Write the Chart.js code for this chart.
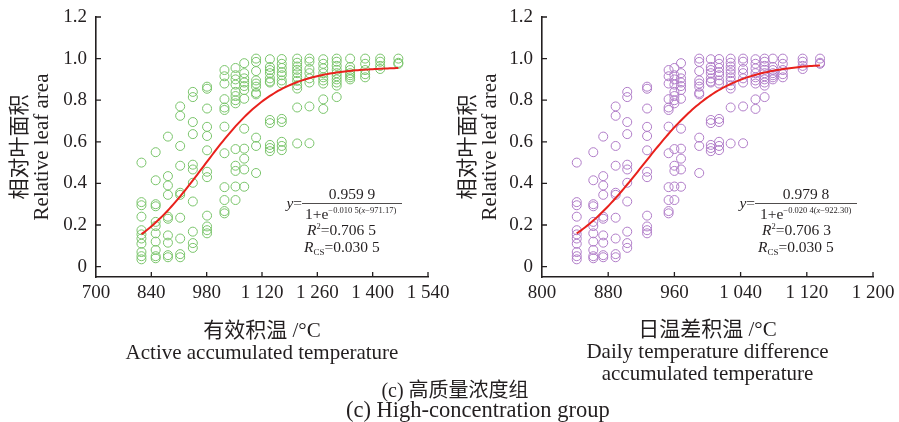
<!DOCTYPE html>
<html>
<head>
<meta charset="utf-8">
<script src="https://cdn.jsdelivr.net/npm/chart.js@4.4.0/dist/chart.umd.min.js"></script>
<style>
  body { margin: 0; width: 899px; height: 422px; background: #fff; position: relative; overflow: hidden;
         font-family: "Liberation Serif", "Noto Sans CJK SC", serif; color: #231f20; }
  canvas { position: absolute; top: 0; }
  #c1 { left: 0; }
  #c2 { left: 450px; }
  .cap { position: absolute; white-space: nowrap; line-height: 20px; }
</style>
</head>
<body>
<canvas id="c1" width="450" height="390"></canvas>
<canvas id="c2" width="449" height="390"></canvas>
<div class="cap" style="top:380px;left:0;width:910px;text-align:center;font-size:20px">(c) 高质量浓度组</div>
<div class="cap" style="top:400px;left:346px;font-size:22.5px">(c) High-concentration group</div>
<script>
// sampling dates: active accumulated temperature and daily-difference accumulated temperature
const activeTemp = [815, 851, 882, 913, 945, 981, 1025, 1053, 1075, 1105, 1140, 1170, 1209, 1240, 1275, 1309, 1343, 1381, 1419, 1465];
const diffTemp = [842, 862, 874, 889, 903, 927, 953, 960, 968, 990, 1004, 1014, 1028, 1043, 1058, 1069, 1079, 1091, 1115, 1136];

// relative leaf area observed on each sampling date
const leafArea = [
  [0.50, 0.31, 0.295, 0.24, 0.175, 0.155, 0.135, 0.11, 0.07, 0.05, 0.035],
  [0.55, 0.415, 0.30, 0.29, 0.215, 0.195, 0.16, 0.12, 0.08, 0.05, 0.04],
  [0.625, 0.435, 0.39, 0.345, 0.24, 0.23, 0.15, 0.115, 0.055, 0.045],
  [0.77, 0.725, 0.58, 0.485, 0.355, 0.345, 0.235, 0.135, 0.06, 0.045],
  [0.84, 0.815, 0.695, 0.637, 0.49, 0.467, 0.403, 0.313, 0.168, 0.113, 0.09],
  [0.865, 0.855, 0.76, 0.672, 0.628, 0.559, 0.456, 0.43, 0.245, 0.193, 0.175, 0.16],
  [0.945, 0.915, 0.88, 0.805, 0.765, 0.753, 0.673, 0.545, 0.382, 0.32, 0.267, 0.256],
  [0.955, 0.92, 0.90, 0.875, 0.84, 0.82, 0.80, 0.785, 0.565, 0.485, 0.46, 0.385, 0.32],
  [0.978, 0.93, 0.905, 0.885, 0.868, 0.849, 0.807, 0.663, 0.567, 0.519, 0.467, 0.384],
  [1.0, 0.984, 0.94, 0.895, 0.88, 0.865, 0.835, 0.828, 0.62, 0.58, 0.45],
  [0.997, 0.96, 0.945, 0.93, 0.905, 0.89, 0.885, 0.705, 0.69, 0.585, 0.57, 0.555],
  [0.998, 0.975, 0.955, 0.935, 0.92, 0.895, 0.88, 0.71, 0.695, 0.6, 0.58, 0.56],
  [1.0, 0.98, 0.962, 0.946, 0.93, 0.91, 0.893, 0.872, 0.856, 0.765, 0.592],
  [1.0, 0.985, 0.95, 0.93, 0.905, 0.885, 0.77, 0.593],
  [0.997, 0.975, 0.953, 0.93, 0.91, 0.895, 0.88, 0.804, 0.758],
  [1.0, 0.985, 0.965, 0.946, 0.93, 0.915, 0.9, 0.885, 0.87, 0.815],
  [1.0, 0.96, 0.945, 0.93, 0.92, 0.91, 0.9],
  [1.0, 0.975, 0.945, 0.925, 0.91],
  [1.0, 0.985, 0.965, 0.95],
  [1.0, 0.98, 0.975]
];

// logistic fits y = a / (1 + e^(-k(x - x0)))
const activeFit = { a: 0.9599, k: 0.0105, x0: 971.17, r2: '0.706 5', rcs: '0.030 5',
                    aText: '0.959 9', expText: '−0.010 5(', x0Text: '−971.17)' };
const diffFit = { a: 0.9798, k: 0.0204, x0: 922.30, r2: '0.706 3', rcs: '0.030 5',
                  aText: '0.979 8', expText: '−0.020 4(', x0Text: '−922.30)' };

const yTicks = [0, 0.2, 0.4, 0.6, 0.8, 1.0, 1.2];
const activeTicks = [700, 840, 980, 1120, 1260, 1400, 1540];
const diffTicks = [800, 880, 960, 1040, 1120, 1200];

const SERIF = "'Liberation Serif', 'Noto Sans CJK SC', serif";
const INK = '#231f20';

function scatterPoints(xs) {
  const pts = [];
  xs.forEach((x, i) => leafArea[i].forEach(v => pts.push({ x: x, y: v })));
  return pts;
}

function fitCurve(xs, fit) {
  const pts = [];
  const x1 = xs[0], x2 = xs[xs.length - 1];
  const n = 120;
  for (let i = 0; i <= n; i++) {
    const x = x1 + (x2 - x1) * i / n;
    pts.push({ x: x, y: fit.a / (1 + Math.exp(-fit.k * (x - fit.x0))) });
  }
  return pts;
}

function fmtThousands(v) {
  const s = String(v);
  return s.length > 3 ? s.slice(0, s.length - 3) + ' ' + s.slice(-3) : s;
}

// tick marks drawn on the inner side of both axes
const innerTicks = {
  id: 'innerTicks',
  afterDraw(chart) {
    const { ctx, chartArea: a, scales: { x, y } } = chart;
    ctx.save();
    ctx.strokeStyle = INK;
    ctx.lineWidth = 1.3;
    ctx.beginPath();
    x.ticks.forEach(t => {
      const px = x.getPixelForValue(t.value);
      if (px <= a.left + 1) return;
      ctx.moveTo(px, a.bottom); ctx.lineTo(px, a.bottom - 5);
    });
    y.ticks.forEach(t => {
      const py = y.getPixelForValue(t.value);
      ctx.moveTo(a.left, py); ctx.lineTo(a.left + 5, py);
    });
    ctx.stroke();
    ctx.restore();
  }
};

function drawRuns(ctx, x, y, parts) {
  parts.forEach(p => {
    ctx.font = (p.i ? 'italic ' : '') + p.s + 'px ' + SERIF;
    ctx.fillText(p.t, x, y + (p.dy || 0));
    x += ctx.measureText(p.t).width;
  });
  return x;
}

function runsWidth(ctx, parts) {
  let w = 0;
  parts.forEach(p => {
    ctx.font = (p.i ? 'italic ' : '') + p.s + 'px ' + SERIF;
    w += ctx.measureText(p.t).width;
  });
  return w;
}

// fitted equation, R² and R_CS block
const fitLabel = {
  id: 'fitLabel',
  afterDraw(chart, args, opts) {
    const ctx = chart.ctx;
    const f = opts.fit;
    const ax = opts.x, len = opts.len;
    const fs = 15.5, small = 8.5;
    ctx.save();
    ctx.fillStyle = INK;
    ctx.strokeStyle = INK;
    ctx.textBaseline = 'alphabetic';

    const yEq = [{ t: 'y', s: fs, i: true }, { t: '=', s: fs }];
    drawRuns(ctx, ax - runsWidth(ctx, yEq), 208, yEq);

    const num = [{ t: f.aText, s: fs }];
    drawRuns(ctx, ax + len / 2 - runsWidth(ctx, num) / 2, 199, num);

    ctx.lineWidth = 0.8;
    ctx.beginPath();
    ctx.moveTo(ax, 203.5); ctx.lineTo(ax + len, 203.5);
    ctx.stroke();

    drawRuns(ctx, ax + opts.dDen, 219, [
      { t: '1+e', s: fs },
      { t: f.expText, s: small, dy: -6 },
      { t: 'x', s: small, i: true, dy: -6 },
      { t: f.x0Text, s: small, dy: -6 }
    ]);

    drawRuns(ctx, ax + opts.dR2, 235, [
      { t: 'R', s: fs, i: true },
      { t: '2', s: small, dy: -6 },
      { t: '=' + f.r2, s: fs }
    ]);

    drawRuns(ctx, ax + opts.dRcs, 252, [
      { t: 'R', s: fs, i: true },
      { t: 'CS', s: 9, dy: 3 },
      { t: '=' + f.rcs, s: fs }
    ]);
    ctx.restore();
  }
};

function buildChart(id, cfg) {
  const axisW = cfg.axisW;
  return new Chart(document.getElementById(id), {
    type: 'scatter',
    data: {
      datasets: [
        {
          data: fitCurve(cfg.xs, cfg.fit),
          showLine: true,
          borderColor: '#e8211c',
          borderWidth: 2,
          pointRadius: 0,
          tension: 0
        },
        {
          data: scatterPoints(cfg.xs),
          pointStyle: 'circle',
          pointRadius: 4.5,
          borderWidth: 1,
          borderColor: cfg.color,
          backgroundColor: 'rgba(0,0,0,0)'
        }
      ]
    },
    options: {
      responsive: false,
      animation: false,
      events: [],
      layout: { padding: { left: 0, top: 17, right: cfg.padRight, bottom: 0 } },
      plugins: {
        legend: { display: false },
        tooltip: { enabled: false },
        fitLabel: { fit: cfg.fit, x: cfg.eqX, len: cfg.eqLen, dDen: cfg.dDen, dR2: cfg.dR2, dRcs: cfg.dRcs }
      },
      scales: {
        x: {
          type: 'linear',
          min: cfg.ticks[0],
          max: cfg.ticks[cfg.ticks.length - 1],
          afterBuildTicks: s => { s.ticks = cfg.ticks.map(v => ({ value: v })); },
          afterFit: s => { s.height = 113; s.paddingLeft = 0; s.paddingRight = 0; },
          grid: { display: false, drawTicks: false },
          border: { display: true, color: INK, width: 1.6 },
          ticks: {
            padding: 5,
            color: INK,
            maxRotation: 0,
            autoSkip: false,
            font: { family: SERIF, size: 19 },
            callback: v => fmtThousands(v)
          },
          title: {
            display: true,
            text: cfg.xTitle,
            color: INK,
            font: { family: SERIF, size: 21, lineHeight: 22 / 21 },
            padding: { top: 0, bottom: cfg.xTitlePad }
          }
        },
        y: {
          min: -0.05,
          max: 1.2,
          afterBuildTicks: s => { s.ticks = yTicks.map(v => ({ value: v })); },
          afterFit: s => { s.width = axisW; s.paddingTop = 0; s.paddingBottom = 0; },
          grid: { display: false, drawTicks: false },
          border: { display: true, color: INK, width: 1.6 },
          ticks: {
            padding: 9,
            color: INK,
            autoSkip: false,
            font: { family: SERIF, size: 19 },
            callback: v => (v === 0 ? '0' : v.toFixed(1))
          },
          title: {
            display: true,
            text: ['相对叶面积', 'Relative leaf area'],
            color: INK,
            font: { family: SERIF, size: 21, lineHeight: 22 / 21 },
            padding: { top: cfg.yTitlePad, bottom: 0 }
          }
        }
      }
    },
    plugins: [innerTicks, fitLabel]
  });
}

buildChart('c1', {
  xs: activeTemp, fit: activeFit, ticks: activeTicks, color: '#79c46a',
  axisW: 96, padRight: 22, yTitlePad: 9,
  xTitle: ['有效积温 /°C', 'Active accumulated temperature'], xTitlePad: 26,
  eqX: 302, eqLen: 100, dDen: 3, dR2: 5, dRcs: 2
});

buildChart('c2', {
  xs: diffTemp, fit: diffFit, ticks: diffTicks, color: '#b07cc8',
  axisW: 92, padRight: 26, yTitlePad: 7,
  xTitle: ['日温差积温 /°C', 'Daily temperature difference', 'accumulated temperature'], xTitlePad: 5,
  eqX: 305, eqLen: 102, dDen: 5, dR2: 7, dRcs: 3
});
</script>
</body>
</html>
